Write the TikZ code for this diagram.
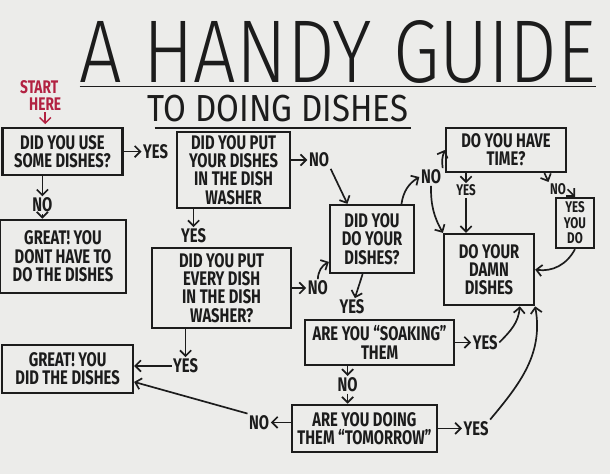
\documentclass[tikz,border=0pt]{standalone}
\usepackage{fontspec}
\setmainfont{Fira Sans}[FakeStretch=0.75]
\newfontfamily\titlefont{Fira Sans Light}
\usepackage{xcolor}
\usepackage{tikz}
\usetikzlibrary{arrows.meta,positioning,calc}
\definecolor{ink}{RGB}{28,28,28}
\definecolor{paper}{RGB}{236,236,234}
\definecolor{marker}{RGB}{178,34,66}

\begin{document}
\begin{tikzpicture}[
    node distance=0.4cm,
    >={Straight Barb[length=4pt,width=8pt]},
    every node/.style={font=\bfseries\fontsize{14}{13}\selectfont, text=ink},
    block/.style={
        draw=ink,
        rectangle,
        line width=1.6pt,
        align=center,
        inner sep=2pt
    },
    answer/.style={inner sep=1pt},
    small/.style={font=\bfseries\fontsize{11}{11}\selectfont},
    flow/.style={->, draw=ink, line width=1.2pt}
]

% ==========================================================
% PAPER
% ==========================================================
\fill[paper] (0,0) rectangle (15.25,-11.85);
\useasboundingbox (0,0) rectangle (15.25,-11.85);

% ==========================================================
% HEADINGS
% ==========================================================
\node[anchor=base, inner sep=0pt, font=\titlefont\mdseries] (title) at (8.45,-2.06)
    {\resizebox{12.9cm}{1.55cm}{A HANDY GUIDE}};
\node[inner sep=0pt, font=\mdseries] (subtitle) at (6.95,-2.72)
    {\resizebox{6.5cm}{0.66cm}{TO DOING DISHES}};

\draw[ink, line width=1.3pt] ([yshift=-2pt]title.south west) -- ([yshift=-2pt]title.south east);
\draw[ink, line width=1.3pt] ([xshift=5pt,yshift=-4pt]subtitle.south west) -- ([xshift=2pt,yshift=-4pt]subtitle.south east);

\node[text=marker, font=\bfseries\fontsize{13}{12}\selectfont, align=center, inner sep=1pt] (start) at (0.98,-2.38) {START\\\hspace*{0.3cm}HERE};

% ==========================================================
% QUESTIONS
% ==========================================================
\node[block, minimum width=3.0cm, minimum height=1.18cm] (use1) at (1.56,-3.79) {DID YOU USE\\SOME DISHES?};
\node[block, minimum width=2.83cm, minimum height=1.9cm] (dishwasher) at (5.84,-4.25) {DID YOU PUT\\YOUR DISHES\\IN THE DISH\\WASHER};
\node[block, minimum width=3.47cm, minimum height=2.0cm] (everydish) at (5.54,-7.2) {DID YOU PUT\\EVERY DISH\\IN THE DISH\\WASHER?};
\node[block, minimum width=2.1cm, minimum height=1.7cm] (didyou) at (9.3,-5.975) {DID YOU\\DO YOUR\\DISHES?};
\node[block, minimum width=3.72cm, minimum height=1.12cm] (soaking) at (9.49,-8.56) {ARE YOU ``SOAKING''\\THEM};
\node[block, minimum width=3.62cm, minimum height=1.18cm] (tomorrow) at (9.11,-10.71) {ARE YOU DOING\\THEM ``TOMORROW''};
\node[block, minimum width=3.0cm, minimum height=1.1cm] (time) at (12.65,-3.75) {DO YOU HAVE\\TIME?};

% ==========================================================
% OUTCOMES
% ==========================================================
\node[block, minimum width=3.15cm, minimum height=1.83cm] (greatno) at (1.575,-6.41) {GREAT! YOU\\DONT HAVE TO\\DO THE DISHES};
\node[block, minimum width=3.27cm, minimum height=1.2cm] (greatdid) at (1.69,-9.225) {GREAT! YOU\\DID THE DISHES};
\node[block, small, minimum width=0.95cm, minimum height=1.25cm, inner sep=1pt] (yesyoudo) at (14.375,-5.575) {YES\\YOU\\DO};
\node[block, minimum width=2.25cm, minimum height=1.78cm] (damn) at (12.225,-6.74) {DO YOUR\\DAMN\\DISHES};

% ==========================================================
% ANSWERS
% ==========================================================
\node[answer, right=0.45cm of use1] (yes1) {YES};
\node[answer, below=0.5cm of use1, xshift=-0.5cm] (no1) {NO};
\node[answer, right=0.4cm of dishwasher, yshift=0.25cm] (no2) {NO};
\node[answer, below=0.45cm of dishwasher, xshift=-1.0cm] (yes2) {YES};
\node[answer, right=0.35cm of everydish] (no3) {NO};
\node[answer, below=0.7cm of everydish, xshift=-0.9cm] (yes6) {YES};
\node[answer, below=0.6cm of didyou, xshift=-0.5cm] (yes3) {YES};
\node[answer, right=0.4cm of soaking] (yes4) {YES};
\node[answer, below=0.25cm of soaking, xshift=-0.8cm] (no4) {NO};
\node[answer, right=0.6cm of tomorrow] (yes5) {YES};
\node[answer, left=0.5cm of tomorrow, yshift=0.15cm] (no5) {NO};
\node[answer] (no6) at (10.775,-4.425) {NO};
\node[answer, small, below=0.25cm of time, xshift=-1.0cm] (yes7) {YES};
\node[answer, small, below=0.22cm of time, xshift=1.3cm] (no7) {NO};

% ==========================================================
% CONNECTIONS
% ==========================================================
\draw[->, marker, line width=1pt, shorten >=2pt] ([xshift=0.15cm]start.south) -- ([xshift=0.15cm]start.south |- use1.north);

% first question
\draw[flow] (use1) -- (yes1);
\draw[flow] (use1.south -| no1) -- (no1);
\draw[flow] (no1) -- (greatno.north -| no1);

% dish washer
\draw[flow] (dishwasher.east |- no2) -- (no2);
\draw[flow] (no2.south east) -- (didyou.125);
\draw[flow] (dishwasher.south -| yes2) -- (yes2);
\draw[flow] (everydish.east |- no3) -- (no3);
\draw[flow] (no3.north) to[bend left=30] (didyou.208);
\draw[flow] (everydish.south -| yes6) -- (yes6);
\draw[flow] (yes6) -- (yes6 -| greatdid.east);

% did you do them
\draw[flow] (didyou.255) -- (yes3);
\draw[flow] (didyou.50) to[bend left=25] (no6.west);
\draw[flow] (no6.north east) to[bend left=15] (time.west);
\draw[flow] (no6.south) to[bend right=15] (damn.north west);

% time
\draw[flow] (time.south -| yes7) -- (yes7);
\draw[flow] (yes7) -- (damn.north -| yes7);
\draw[flow] (time.-31) -- (no7.north west);
\draw[flow] (no7.east) -- (yesyoudo.north);
\draw[flow] (yesyoudo.south) to[bend left=35] (damn.east);

% soaking / tomorrow
\draw[flow] (soaking) -- (yes4);
\draw[flow] (yes4.east) to[out=45, in=-95] (damn.310);
\draw[flow] (soaking.south -| no4) -- (no4);
\draw[flow] (no4) -- (tomorrow.north -| no4);
\draw[flow] (tomorrow) -- (yes5);
\draw[flow] (yes5.north east) to[out=50, in=-80] (damn.south east);
\draw[flow] (tomorrow.west |- no5) -- (no5);
\draw[flow] (no5.north west) -- (greatdid.-11);

\end{tikzpicture}
\end{document}
